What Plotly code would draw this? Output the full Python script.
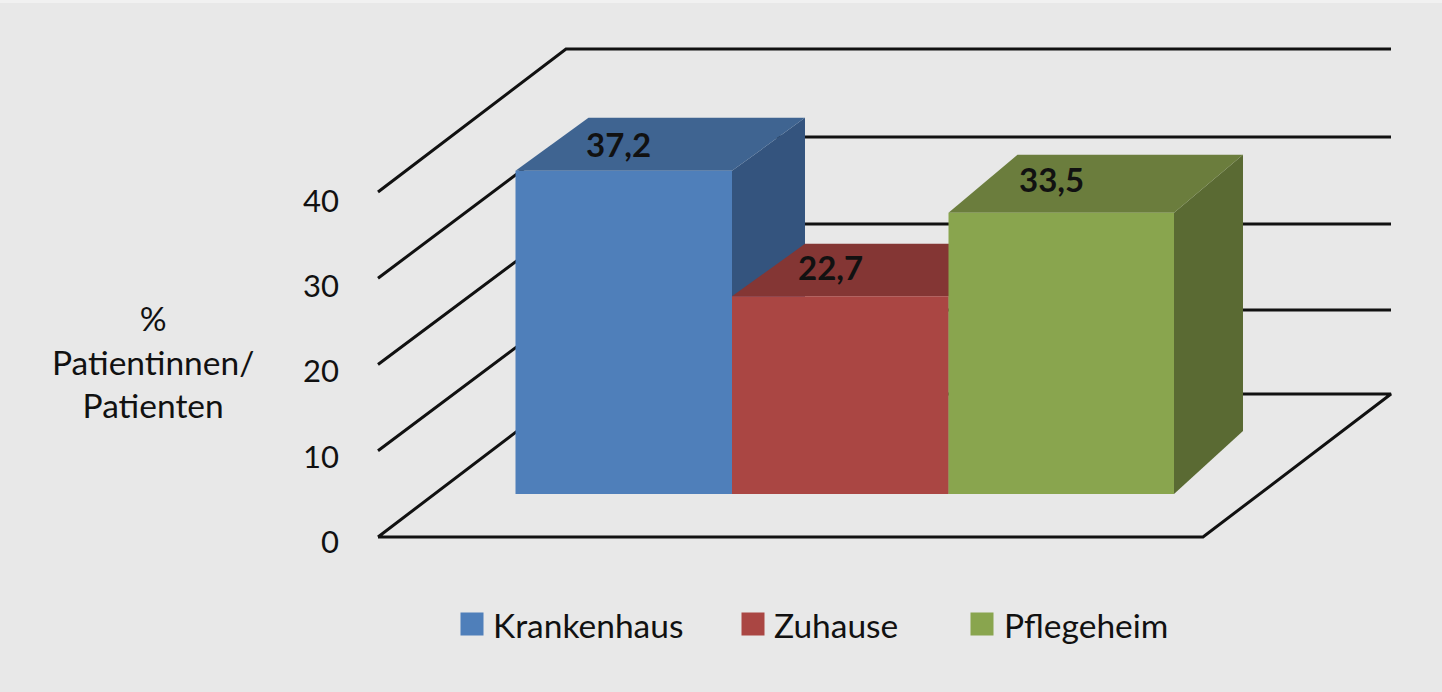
import plotly.graph_objects as go

categories = ['Krankenhaus', 'Zuhause', 'Pflegeheim']
# printed labels, and the heights as actually drawn in the picture (they differ a bit)
value_labels = ['37,2', '22,7', '33,5']
bar_heights = [37.45, 22.9, 32.6]
tick_values = [0, 10, 20, 30, 40]
# the back wall lines are not quite evenly spaced in the picture
back_levels = [0, 9.75, 19.7, 29.8, 40]

front_colors = ['#4f7fba', '#aa4643', '#89a54e']
top_colors = ['#3f6491', '#843634', '#6b7d3d']
side_colors = ['#34547e', '#6e2e2c', '#5a6a33']

FONT = 'Lato'
TEXT = '#111111'
BG = '#e8e8e8'
W, H = 1442, 692

# x axis runs in pixels, y axis in percent
UNIT = 8.625
FLOOR_PX = 537
WALL_LEFT, WALL_BACK, FLOOR_RIGHT = 378, 566, 1203
WALL_DX, WALL_DY = 188, 143 / UNIT

# oblique bars
BAR_EDGES = [515.5, 732, 948.5, 1174]
BAR_LIFT = 5
DEPTH_X = [73, 73, 69]
DEPTH_TOP = [53 / UNIT, 52.5 / UNIT, 58 / UNIT]
DEPTH_BASE = 63 / UNIT
LABEL_DX = [-5, -10, -10]
LABEL_DY = [0.1, 0.4, 0.55]

fig = go.Figure()


def polygon(xs, ys, color):
    fig.add_trace(go.Scatter(x=xs, y=ys, mode='lines', fill='toself', fillcolor=color,
                             line=dict(width=0, color=color), hoverinfo='skip', showlegend=False))


def grid_line(xs, ys):
    fig.add_trace(go.Scatter(x=xs, y=ys, mode='lines', line=dict(color=TEXT, width=3),
                             hoverinfo='skip', showlegend=False))


# floor and walls
grid_line([WALL_LEFT, FLOOR_RIGHT, FLOOR_RIGHT + WALL_DX, WALL_BACK, WALL_LEFT],
          [0, 0, WALL_DY, WALL_DY, 0])
for t, b in zip(tick_values[1:], back_levels[1:]):
    grid_line([WALL_LEFT, WALL_BACK, FLOOR_RIGHT + WALL_DX], [t, b + WALL_DY, b + WALL_DY])

# bars, back faces first so the next bar covers them
for i, h in enumerate(bar_heights):
    x0, x1 = BAR_EDGES[i], BAR_EDGES[i + 1]
    dx = DEPTH_X[i]
    top = BAR_LIFT + h
    dy = DEPTH_TOP[i]
    polygon([x1, x1 + dx, x1 + dx, x1], [top, top + dy, BAR_LIFT + DEPTH_BASE, BAR_LIFT], side_colors[i])
    polygon([x0, x1, x1 + dx, x0 + dx], [top, top, top + dy, top + dy], top_colors[i])
    polygon([x0, x1, x1, x0], [BAR_LIFT, BAR_LIFT, top, top], front_colors[i])
    fig.add_annotation(x=(x0 + x1) / 2 + LABEL_DX[i], y=top + dy / 2 + LABEL_DY[i], text=value_labels[i],
                       showarrow=False, font=dict(family=FONT, size=33, color=TEXT, weight=700))

# tick labels
for t in tick_values:
    fig.add_annotation(x=341, y=t * 0.9884 - 0.45, text=str(t), showarrow=False, xanchor='right',
                       font=dict(family=FONT, size=31, color=TEXT))

# axis title
fig.add_annotation(x=153, y=(FLOOR_PX - 361.5) / UNIT, text='%<br>Patientinnen/<br>Patienten', showarrow=False,
                   align='center', font=dict(family=FONT, size=33.5, color=TEXT))

# legend row
LEGEND_Y = (FLOOR_PX - 624) / UNIT
legend_marks = [472, 753, 982]
legend_text = [491, 772, 1002]
for i, name in enumerate(categories):
    fig.add_trace(go.Scatter(x=[legend_marks[i]], y=[LEGEND_Y], mode='markers', name=name,
                             marker=dict(symbol='square', size=23, color=front_colors[i]),
                             hoverinfo='skip', showlegend=False))
    fig.add_annotation(x=legend_text[i], y=LEGEND_Y - 0.1, text=name, showarrow=False, xanchor='left',
                       font=dict(family=FONT, size=33.5, color=TEXT))

fig.update_layout(
    width=W,
    height=H,
    margin=dict(l=0, r=0, t=0, b=0),
    paper_bgcolor=BG,
    plot_bgcolor=BG,
    xaxis=dict(visible=False, range=[0, W], fixedrange=True),
    yaxis=dict(visible=False, range=[(FLOOR_PX - H) / UNIT, FLOOR_PX / UNIT], fixedrange=True),
    showlegend=False,
)
fig.add_shape(type='rect', xref='paper', yref='paper', x0=0, x1=1, y0=1 - 3 / H, y1=1,
              fillcolor='#f1f1f1', line_width=0, layer='below')

fig.write_html('out.html', config=dict(displayModeBar=False),
               post_script="document.body.style.margin='0';")
